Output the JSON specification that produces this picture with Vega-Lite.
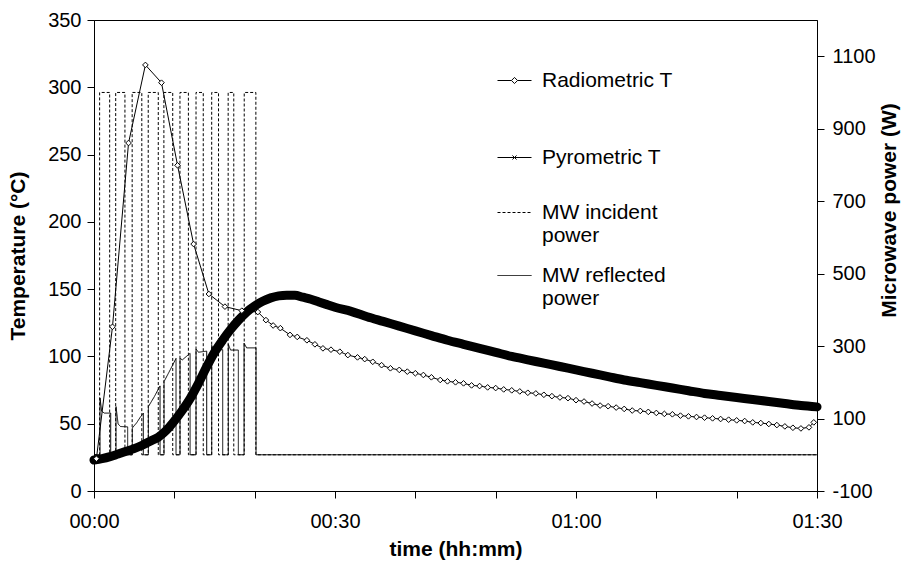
{
  "$schema": "https://vega.github.io/schema/vega-lite/v6.json",
  "width": 723,
  "height": 471,
  "autosize": {"type": "none"},
  "padding": {"left": 94, "top": 20, "right": 90, "bottom": 70},
  "background": "white",
  "config": {
    "view": {"stroke": "black", "strokeWidth": 1},
    "font": "Liberation Sans",
    "axis": {
      "grid": false, "domainColor": "black", "tickColor": "black", "labelColor": "black", "titleColor": "black",
      "labelFont": "Liberation Sans", "titleFont": "Liberation Sans", "labelFontSize": 20, "titleFontSize": 21,
      "titleFontWeight": "bold", "tickSize": 7, "labelFlush": false, "labelOverlap": false, "domainWidth": 1, "tickWidth": 1
    }
  },
  "datasets": {
    "power": [
      {"i": 0, "t": 0, "W": 0, "s": "MW incident power"},
      {"i": 1, "t": 0.7, "W": 0, "s": "MW incident power"},
      {"i": 2, "t": 0.7, "W": 1000, "s": "MW incident power"},
      {"i": 3, "t": 1.95, "W": 1000, "s": "MW incident power"},
      {"i": 4, "t": 1.95, "W": 0, "s": "MW incident power"},
      {"i": 5, "t": 2.7, "W": 0, "s": "MW incident power"},
      {"i": 6, "t": 2.7, "W": 1000, "s": "MW incident power"},
      {"i": 7, "t": 3.85, "W": 1000, "s": "MW incident power"},
      {"i": 8, "t": 3.85, "W": 0, "s": "MW incident power"},
      {"i": 9, "t": 4.75, "W": 0, "s": "MW incident power"},
      {"i": 10, "t": 4.75, "W": 1000, "s": "MW incident power"},
      {"i": 11, "t": 5.95, "W": 1000, "s": "MW incident power"},
      {"i": 12, "t": 5.95, "W": 0, "s": "MW incident power"},
      {"i": 13, "t": 6.75, "W": 0, "s": "MW incident power"},
      {"i": 14, "t": 6.75, "W": 1000, "s": "MW incident power"},
      {"i": 15, "t": 8.0, "W": 1000, "s": "MW incident power"},
      {"i": 16, "t": 8.0, "W": 0, "s": "MW incident power"},
      {"i": 17, "t": 8.7, "W": 0, "s": "MW incident power"},
      {"i": 18, "t": 8.7, "W": 1000, "s": "MW incident power"},
      {"i": 19, "t": 9.8, "W": 1000, "s": "MW incident power"},
      {"i": 20, "t": 9.8, "W": 0, "s": "MW incident power"},
      {"i": 21, "t": 10.7, "W": 0, "s": "MW incident power"},
      {"i": 22, "t": 10.7, "W": 1000, "s": "MW incident power"},
      {"i": 23, "t": 11.75, "W": 1000, "s": "MW incident power"},
      {"i": 24, "t": 11.75, "W": 0, "s": "MW incident power"},
      {"i": 25, "t": 12.7, "W": 0, "s": "MW incident power"},
      {"i": 26, "t": 12.7, "W": 1000, "s": "MW incident power"},
      {"i": 27, "t": 13.6, "W": 1000, "s": "MW incident power"},
      {"i": 28, "t": 13.6, "W": 0, "s": "MW incident power"},
      {"i": 29, "t": 14.65, "W": 0, "s": "MW incident power"},
      {"i": 30, "t": 14.65, "W": 1000, "s": "MW incident power"},
      {"i": 31, "t": 15.5, "W": 1000, "s": "MW incident power"},
      {"i": 32, "t": 15.5, "W": 0, "s": "MW incident power"},
      {"i": 33, "t": 16.7, "W": 0, "s": "MW incident power"},
      {"i": 34, "t": 16.7, "W": 1000, "s": "MW incident power"},
      {"i": 35, "t": 17.4, "W": 1000, "s": "MW incident power"},
      {"i": 36, "t": 17.4, "W": 0, "s": "MW incident power"},
      {"i": 37, "t": 18.7, "W": 0, "s": "MW incident power"},
      {"i": 38, "t": 18.7, "W": 1000, "s": "MW incident power"},
      {"i": 39, "t": 20.15, "W": 1000, "s": "MW incident power"},
      {"i": 40, "t": 20.15, "W": 0, "s": "MW incident power"},
      {"i": 41, "t": 90, "W": 0, "s": "MW incident power"},
      {"i": 0, "t": 0, "W": 0, "s": "MW reflected power"},
      {"i": 1, "t": 0.75, "W": 0, "s": "MW reflected power"},
      {"i": 2, "t": 0.75, "W": 157, "s": "MW reflected power"},
      {"i": 3, "t": 0.95, "W": 120, "s": "MW reflected power"},
      {"i": 4, "t": 1.3, "W": 115, "s": "MW reflected power"},
      {"i": 5, "t": 2.08, "W": 115, "s": "MW reflected power"},
      {"i": 6, "t": 2.08, "W": 0, "s": "MW reflected power"},
      {"i": 7, "t": 2.74, "W": 0, "s": "MW reflected power"},
      {"i": 8, "t": 2.74, "W": 133, "s": "MW reflected power"},
      {"i": 9, "t": 3.0, "W": 85, "s": "MW reflected power"},
      {"i": 10, "t": 3.3, "W": 78, "s": "MW reflected power"},
      {"i": 11, "t": 4.19, "W": 77, "s": "MW reflected power"},
      {"i": 12, "t": 4.19, "W": 0, "s": "MW reflected power"},
      {"i": 13, "t": 4.77, "W": 0, "s": "MW reflected power"},
      {"i": 14, "t": 4.77, "W": 74, "s": "MW reflected power"},
      {"i": 15, "t": 5.3, "W": 88, "s": "MW reflected power"},
      {"i": 16, "t": 5.8, "W": 105, "s": "MW reflected power"},
      {"i": 17, "t": 6.14, "W": 115, "s": "MW reflected power"},
      {"i": 18, "t": 6.14, "W": 0, "s": "MW reflected power"},
      {"i": 19, "t": 6.77, "W": 0, "s": "MW reflected power"},
      {"i": 20, "t": 6.77, "W": 133, "s": "MW reflected power"},
      {"i": 21, "t": 7.5, "W": 160, "s": "MW reflected power"},
      {"i": 22, "t": 8.22, "W": 190, "s": "MW reflected power"},
      {"i": 23, "t": 8.22, "W": 0, "s": "MW reflected power"},
      {"i": 24, "t": 8.72, "W": 0, "s": "MW reflected power"},
      {"i": 25, "t": 8.72, "W": 202, "s": "MW reflected power"},
      {"i": 26, "t": 9.5, "W": 235, "s": "MW reflected power"},
      {"i": 27, "t": 10.21, "W": 266, "s": "MW reflected power"},
      {"i": 28, "t": 10.21, "W": 0, "s": "MW reflected power"},
      {"i": 29, "t": 10.71, "W": 0, "s": "MW reflected power"},
      {"i": 30, "t": 10.71, "W": 266, "s": "MW reflected power"},
      {"i": 31, "t": 11.0, "W": 262, "s": "MW reflected power"},
      {"i": 32, "t": 11.96, "W": 280, "s": "MW reflected power"},
      {"i": 33, "t": 11.96, "W": 0, "s": "MW reflected power"},
      {"i": 34, "t": 12.7, "W": 0, "s": "MW reflected power"},
      {"i": 35, "t": 12.7, "W": 292, "s": "MW reflected power"},
      {"i": 36, "t": 13.0, "W": 283, "s": "MW reflected power"},
      {"i": 37, "t": 14.03, "W": 286, "s": "MW reflected power"},
      {"i": 38, "t": 14.03, "W": 0, "s": "MW reflected power"},
      {"i": 39, "t": 14.65, "W": 0, "s": "MW reflected power"},
      {"i": 40, "t": 14.65, "W": 302, "s": "MW reflected power"},
      {"i": 41, "t": 14.9, "W": 289, "s": "MW reflected power"},
      {"i": 42, "t": 16.02, "W": 290, "s": "MW reflected power"},
      {"i": 43, "t": 16.02, "W": 0, "s": "MW reflected power"},
      {"i": 44, "t": 16.72, "W": 0, "s": "MW reflected power"},
      {"i": 45, "t": 16.72, "W": 305, "s": "MW reflected power"},
      {"i": 46, "t": 17.0, "W": 289, "s": "MW reflected power"},
      {"i": 47, "t": 17.97, "W": 289, "s": "MW reflected power"},
      {"i": 48, "t": 17.97, "W": 0, "s": "MW reflected power"},
      {"i": 49, "t": 18.68, "W": 0, "s": "MW reflected power"},
      {"i": 50, "t": 18.68, "W": 308, "s": "MW reflected power"},
      {"i": 51, "t": 19.0, "W": 295, "s": "MW reflected power"},
      {"i": 52, "t": 20.17, "W": 295, "s": "MW reflected power"},
      {"i": 53, "t": 20.17, "W": 0, "s": "MW reflected power"},
      {"i": 54, "t": 90, "W": 0, "s": "MW reflected power"}
    ],
    "temp": [
      {"t": 0.3, "T": 24, "s": "Radiometric T"},
      {"t": 2.3, "T": 122, "s": "Radiometric T"},
      {"t": 4.3, "T": 258.6, "s": "Radiometric T"},
      {"t": 6.4, "T": 316.6, "s": "Radiometric T"},
      {"t": 8.4, "T": 303.4, "s": "Radiometric T"},
      {"t": 10.4, "T": 242, "s": "Radiometric T"},
      {"t": 12.4, "T": 183.5, "s": "Radiometric T"},
      {"t": 14.3, "T": 146.4, "s": "Radiometric T"},
      {"t": 16.3, "T": 137, "s": "Radiometric T"},
      {"t": 18.4, "T": 134, "s": "Radiometric T"},
      {"t": 20.4, "T": 133, "s": "Radiometric T"},
      {"t": 21.4, "T": 127, "s": "Radiometric T"},
      {"t": 22.3, "T": 123, "s": "Radiometric T"},
      {"t": 23.2, "T": 121, "s": "Radiometric T"},
      {"t": 24.4, "T": 116, "s": "Radiometric T"},
      {"t": 25.3, "T": 114.5, "s": "Radiometric T"},
      {"t": 26.5, "T": 112, "s": "Radiometric T"},
      {"t": 27.5, "T": 109, "s": "Radiometric T"},
      {"t": 28.5, "T": 106, "s": "Radiometric T"},
      {"t": 29.5, "T": 105, "s": "Radiometric T"},
      {"t": 30.6, "T": 103.5, "s": "Radiometric T"},
      {"t": 31.6, "T": 101, "s": "Radiometric T"},
      {"t": 32.8, "T": 99.3, "s": "Radiometric T"},
      {"t": 33.7, "T": 98, "s": "Radiometric T"},
      {"t": 34.7, "T": 96, "s": "Radiometric T"},
      {"t": 35.8, "T": 93.5, "s": "Radiometric T"},
      {"t": 36.9, "T": 91.2, "s": "Radiometric T"},
      {"t": 38, "T": 90, "s": "Radiometric T"},
      {"t": 39, "T": 88.7, "s": "Radiometric T"},
      {"t": 40, "T": 87.5, "s": "Radiometric T"},
      {"t": 41, "T": 86.2, "s": "Radiometric T"},
      {"t": 42, "T": 84.5, "s": "Radiometric T"},
      {"t": 43.1, "T": 82.5, "s": "Radiometric T"},
      {"t": 44, "T": 81.5, "s": "Radiometric T"},
      {"t": 45, "T": 80.8, "s": "Radiometric T"},
      {"t": 46, "T": 80, "s": "Radiometric T"},
      {"t": 47, "T": 78.5, "s": "Radiometric T"},
      {"t": 48, "T": 78, "s": "Radiometric T"},
      {"t": 49, "T": 77, "s": "Radiometric T"},
      {"t": 50, "T": 76.5, "s": "Radiometric T"},
      {"t": 51, "T": 75.5, "s": "Radiometric T"},
      {"t": 52, "T": 74.8, "s": "Radiometric T"},
      {"t": 53, "T": 74, "s": "Radiometric T"},
      {"t": 54, "T": 73, "s": "Radiometric T"},
      {"t": 55, "T": 72.5, "s": "Radiometric T"},
      {"t": 56, "T": 71.5, "s": "Radiometric T"},
      {"t": 57, "T": 70.5, "s": "Radiometric T"},
      {"t": 58, "T": 69.5, "s": "Radiometric T"},
      {"t": 59, "T": 69, "s": "Radiometric T"},
      {"t": 60, "T": 67.5, "s": "Radiometric T"},
      {"t": 61, "T": 66.5, "s": "Radiometric T"},
      {"t": 62, "T": 65, "s": "Radiometric T"},
      {"t": 63, "T": 63.5, "s": "Radiometric T"},
      {"t": 64, "T": 63, "s": "Radiometric T"},
      {"t": 65, "T": 62, "s": "Radiometric T"},
      {"t": 66, "T": 61, "s": "Radiometric T"},
      {"t": 67, "T": 59.8, "s": "Radiometric T"},
      {"t": 68, "T": 59.5, "s": "Radiometric T"},
      {"t": 69, "T": 58.8, "s": "Radiometric T"},
      {"t": 70, "T": 58, "s": "Radiometric T"},
      {"t": 71, "T": 57.3, "s": "Radiometric T"},
      {"t": 72, "T": 57, "s": "Radiometric T"},
      {"t": 73, "T": 56, "s": "Radiometric T"},
      {"t": 74, "T": 55.5, "s": "Radiometric T"},
      {"t": 75, "T": 55, "s": "Radiometric T"},
      {"t": 76, "T": 54.5, "s": "Radiometric T"},
      {"t": 77, "T": 54, "s": "Radiometric T"},
      {"t": 78, "T": 53.5, "s": "Radiometric T"},
      {"t": 79, "T": 53, "s": "Radiometric T"},
      {"t": 80, "T": 52.5, "s": "Radiometric T"},
      {"t": 81, "T": 52, "s": "Radiometric T"},
      {"t": 82, "T": 51, "s": "Radiometric T"},
      {"t": 83, "T": 50.5, "s": "Radiometric T"},
      {"t": 84, "T": 49.8, "s": "Radiometric T"},
      {"t": 85, "T": 49, "s": "Radiometric T"},
      {"t": 86, "T": 48, "s": "Radiometric T"},
      {"t": 87, "T": 47, "s": "Radiometric T"},
      {"t": 88, "T": 46.5, "s": "Radiometric T"},
      {"t": 89, "T": 47.3, "s": "Radiometric T"},
      {"t": 89.6, "T": 51, "s": "Radiometric T"},
      {"t": 0, "T": 23, "s": "Pyrometric T"},
      {"t": 1, "T": 24, "s": "Pyrometric T"},
      {"t": 2, "T": 25.5, "s": "Pyrometric T"},
      {"t": 3, "T": 27.5, "s": "Pyrometric T"},
      {"t": 4, "T": 29.5, "s": "Pyrometric T"},
      {"t": 5, "T": 31.5, "s": "Pyrometric T"},
      {"t": 6, "T": 34, "s": "Pyrometric T"},
      {"t": 7, "T": 37, "s": "Pyrometric T"},
      {"t": 8, "T": 40, "s": "Pyrometric T"},
      {"t": 9, "T": 45, "s": "Pyrometric T"},
      {"t": 10, "T": 52, "s": "Pyrometric T"},
      {"t": 11, "T": 60, "s": "Pyrometric T"},
      {"t": 12, "T": 69, "s": "Pyrometric T"},
      {"t": 13, "T": 80, "s": "Pyrometric T"},
      {"t": 14, "T": 92, "s": "Pyrometric T"},
      {"t": 15, "T": 103, "s": "Pyrometric T"},
      {"t": 16, "T": 112, "s": "Pyrometric T"},
      {"t": 17, "T": 120, "s": "Pyrometric T"},
      {"t": 18, "T": 127, "s": "Pyrometric T"},
      {"t": 19, "T": 133, "s": "Pyrometric T"},
      {"t": 20, "T": 137.5, "s": "Pyrometric T"},
      {"t": 21, "T": 141, "s": "Pyrometric T"},
      {"t": 22, "T": 143.5, "s": "Pyrometric T"},
      {"t": 23, "T": 145, "s": "Pyrometric T"},
      {"t": 24, "T": 145.5, "s": "Pyrometric T"},
      {"t": 25, "T": 145.5, "s": "Pyrometric T"},
      {"t": 26, "T": 144, "s": "Pyrometric T"},
      {"t": 27, "T": 142.5, "s": "Pyrometric T"},
      {"t": 28, "T": 140.5, "s": "Pyrometric T"},
      {"t": 29, "T": 138.5, "s": "Pyrometric T"},
      {"t": 30, "T": 136.5, "s": "Pyrometric T"},
      {"t": 32, "T": 133.5, "s": "Pyrometric T"},
      {"t": 34, "T": 129.5, "s": "Pyrometric T"},
      {"t": 36, "T": 126, "s": "Pyrometric T"},
      {"t": 38, "T": 122.5, "s": "Pyrometric T"},
      {"t": 40, "T": 119, "s": "Pyrometric T"},
      {"t": 42, "T": 115.5, "s": "Pyrometric T"},
      {"t": 44, "T": 112, "s": "Pyrometric T"},
      {"t": 46, "T": 109, "s": "Pyrometric T"},
      {"t": 48, "T": 106, "s": "Pyrometric T"},
      {"t": 50, "T": 103, "s": "Pyrometric T"},
      {"t": 52, "T": 100, "s": "Pyrometric T"},
      {"t": 54, "T": 97.5, "s": "Pyrometric T"},
      {"t": 56, "T": 95, "s": "Pyrometric T"},
      {"t": 58, "T": 92.5, "s": "Pyrometric T"},
      {"t": 60, "T": 90, "s": "Pyrometric T"},
      {"t": 62, "T": 87.5, "s": "Pyrometric T"},
      {"t": 64, "T": 85, "s": "Pyrometric T"},
      {"t": 66, "T": 82.5, "s": "Pyrometric T"},
      {"t": 68, "T": 80.5, "s": "Pyrometric T"},
      {"t": 70, "T": 78.5, "s": "Pyrometric T"},
      {"t": 72, "T": 76.5, "s": "Pyrometric T"},
      {"t": 74, "T": 74.5, "s": "Pyrometric T"},
      {"t": 76, "T": 72.5, "s": "Pyrometric T"},
      {"t": 78, "T": 71, "s": "Pyrometric T"},
      {"t": 80, "T": 69.5, "s": "Pyrometric T"},
      {"t": 82, "T": 68, "s": "Pyrometric T"},
      {"t": 84, "T": 66.5, "s": "Pyrometric T"},
      {"t": 86, "T": 65, "s": "Pyrometric T"},
      {"t": 88, "T": 63.5, "s": "Pyrometric T"},
      {"t": 90, "T": 62.5, "s": "Pyrometric T"}
    ]
  },
  "layer": [
    {
      "data": {"name": "power"},
      "encoding": {
        "x": {"field": "t", "type": "quantitative", "scale": {"domain": [0, 90], "nice": false, "zero": false},
          "axis": {"values": [0, 10, 20, 30, 40, 50, 60, 70, 80, 90], "title": "time (hh:mm)",
            "labelExpr": "datum.value == 0 ? '00:00' : datum.value == 30 ? '00:30' : datum.value == 60 ? '01:00' : datum.value == 90 ? '01:30' : ''",
            "labelPadding": 13, "titlePadding": 7}},
        "y": {"field": "W", "type": "quantitative", "scale": {"domain": [-100, 1200], "nice": false, "zero": false},
          "axis": {"orient": "right", "values": [-100, 100, 300, 500, 700, 900, 1100], "title": "Microwave power (W)",
            "labelExpr": "datum.value + ''",
            "titleAngle": 270, "labelPadding": 8, "titlePadding": 24, "titleY": 190}}
      },
      "layer": [
        {
          "mark": {"type": "line", "color": "black", "strokeWidth": 1},
          "encoding": {
            "order": {"field": "i", "type": "quantitative"},
            "detail": {"field": "s", "type": "nominal"},
            "strokeDash": {"field": "s", "type": "nominal",
              "scale": {"domain": ["MW incident power", "MW reflected power"], "range": [[3, 2], [1, 0]]},
              "legend": {"orient": "none", "legendX": 403, "legendY": 175, "title": null, "padding": 0,
                "symbolType": "stroke", "symbolSize": 1156, "symbolStrokeWidth": 1, "symbolStrokeColor": "black",
                "labelFont": "Liberation Sans", "labelFontSize": 21, "labelColor": "black", "labelOffset": 10, "labelLimit": 300,
                "rowPadding": 12,
                "labelExpr": "datum.label == 'MW incident power' ? ['MW incident', 'power'] : ['MW reflected', 'power']"}
            }
          }
        }
      ]
    },
    {
      "data": {"name": "temp"},
      "encoding": {
        "x": {"field": "t", "type": "quantitative", "scale": {"domain": [0, 90], "nice": false, "zero": false},
          "axis": {"values": [0, 10, 20, 30, 40, 50, 60, 70, 80, 90], "title": "time (hh:mm)",
            "labelExpr": "datum.value == 0 ? '00:00' : datum.value == 30 ? '00:30' : datum.value == 60 ? '01:00' : datum.value == 90 ? '01:30' : ''",
            "labelPadding": 13, "titlePadding": 7}},
        "y": {"field": "T", "type": "quantitative", "scale": {"domain": [0, 350], "nice": false, "zero": false},
          "axis": {"orient": "left", "values": [0, 50, 100, 150, 200, 250, 300, 350], "title": "Temperature (°C)",
            "labelPadding": 6, "titlePadding": 19}}
      },
      "layer": [
        {
          "transform": [{"filter": "datum.s == 'Pyrometric T'"}],
          "mark": {"type": "line", "color": "black", "strokeWidth": 9, "interpolate": "monotone", "strokeCap": "round"}
        },
        {
          "transform": [{"filter": "datum.s == 'Radiometric T'"}],
          "mark": {"type": "line", "color": "black", "strokeWidth": 1}
        },
        {
          "transform": [{"filter": "datum.s == 'Radiometric T'"}],
          "mark": {"type": "point", "shape": "diamond", "size": 32, "filled": true, "fill": "white", "stroke": "black", "strokeWidth": 1, "opacity": 1}
        },
        {
          "transform": [{"filter": "false"}],
          "mark": {"type": "point", "filled": false, "color": "black", "strokeWidth": 1, "opacity": 1},
          "encoding": {
            "shape": {"field": "s", "type": "nominal",
              "scale": {"domain": ["Radiometric T", "Pyrometric T"],
                "range": ["M-1,0H-0.18M0.18,0H1M0,-0.18L0.18,0L0,0.18L-0.18,0Z", "M-1,0H1M-0.12,-0.12L0.12,0.12M-0.12,0.12L0.12,-0.12"]},
              "legend": {"orient": "none", "legendX": 403, "legendY": 43, "title": null, "padding": 0,
                "symbolSize": 1156, "symbolStrokeWidth": 1, "symbolStrokeColor": "black",
                "labelFont": "Liberation Sans", "labelFontSize": 21, "labelColor": "black",
                "labelOffset": 10, "labelLimit": 300, "rowPadding": 49}
            }
          }
        }
      ]
    }
  ],
  "resolve": {"scale": {"y": "independent"}}
}
